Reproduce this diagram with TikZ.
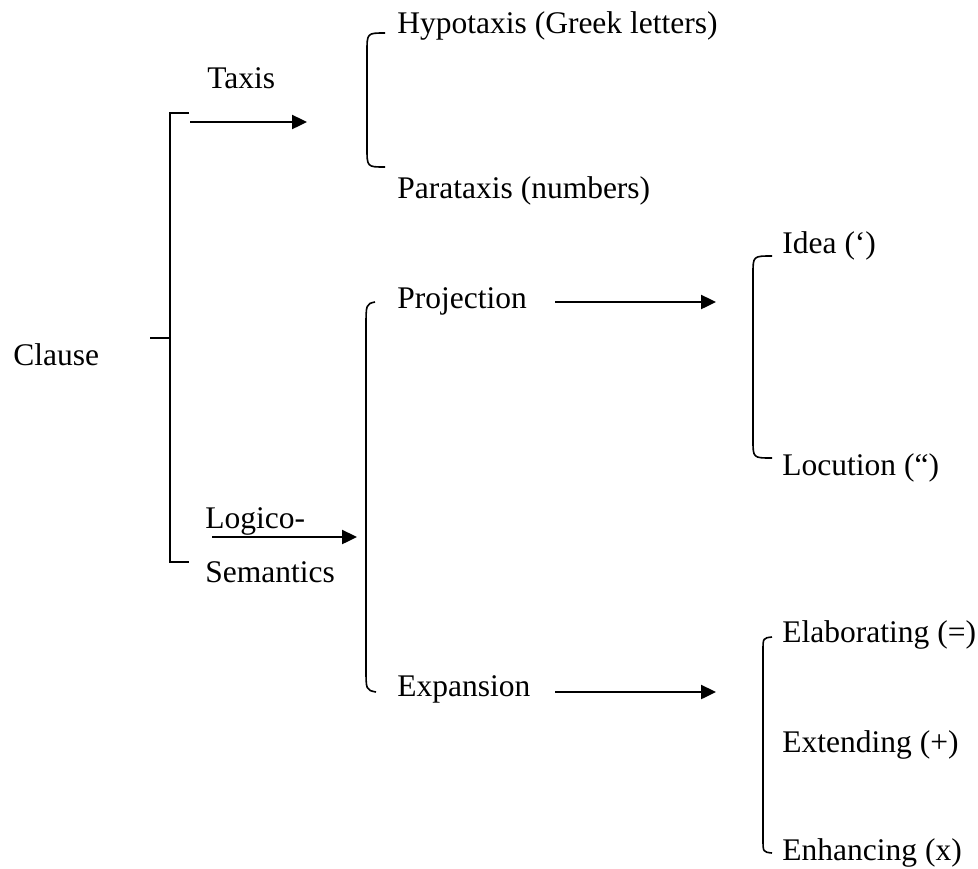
\documentclass[tikz,border=0pt]{standalone}
\usepackage{fontspec}
\setmainfont{Liberation Serif}
\usetikzlibrary{arrows.meta}

\begin{document}
\begin{tikzpicture}[x=0.5pt,y=-0.5pt,
  textstyle/.style={anchor=base west,inner sep=0pt,font=\fontsize{15.75}{19}\selectfont},
  arrowstyle/.style={line width=1.2pt,-{Triangle[length=7.5pt,width=7pt]}},
  bracestyle/.style={line width=0.8pt}]

       \useasboundingbox (0,0) rectangle (978,868);

       % labels
       \node [textstyle] (clause) at (13,365) {Clause};
       \node [textstyle] (taxis) at (207,88) {Taxis};
       \node [textstyle] (hypo) at (397,33) {Hypotaxis (Greek letters)};
       \node [textstyle] (para) at (397,198) {Parataxis (numbers)};
       \node [textstyle] (logico) at (205,528) {Logico-};
       \node [textstyle] (sem) at (205,582) {Semantics};
       \node [textstyle] (proj) at (397,308) {Projection};
       \node [textstyle] (exp) at (397,696) {Expansion};
       \node [textstyle] (idea) at (782,253) {Idea (‘)};
       \node [textstyle] (locu) at (782,475) {Locution (“)};
       \node [textstyle] (elab) at (782,642) {Elaborating (=)};
       \node [textstyle] (ext) at (782,752) {Extending (+)};
       \node [textstyle] (enh) at (782,860) {Enhancing (x)};

       % arrow ends
       \coordinate (a1) at (190,122);  \coordinate (b1) at (307,122);
       \coordinate (a2) at (212,537);  \coordinate (b2) at (357,537);
       \coordinate (a3) at (555,302);  \coordinate (b3) at (716,302);
       \coordinate (a4) at (555,692);  \coordinate (b4) at (716,692);

       % main bracket
       \draw [line width=1.2pt] (189,113) -- (170,113) -- (170,562) -- (189,562);
       \draw [line width=1.2pt] (150,338) -- (170,338);

       \draw [arrowstyle] (a1) -- (b1);
       \draw [arrowstyle] (a2) -- (b2);
       \draw [arrowstyle] (a3) -- (b3);
       \draw [arrowstyle] (a4) -- (b4);

       % braces
       \draw [bracestyle] (385,33) .. controls (367,33) .. (367,52) -- (367,148) .. controls (367,167) .. (385,167);
       \draw [bracestyle] (375,302) .. controls (366,304) .. (366,328) -- (366,668) .. controls (366,690) .. (376,692);
       \draw [bracestyle] (772,256) .. controls (753,256) .. (753,274) -- (753,440) .. controls (753,458) .. (772,458);
       \draw [bracestyle] (772,637) .. controls (763,638) .. (763,651) -- (763,839) .. controls (763,852) .. (772,853);
\end{tikzpicture}
\end{document}
